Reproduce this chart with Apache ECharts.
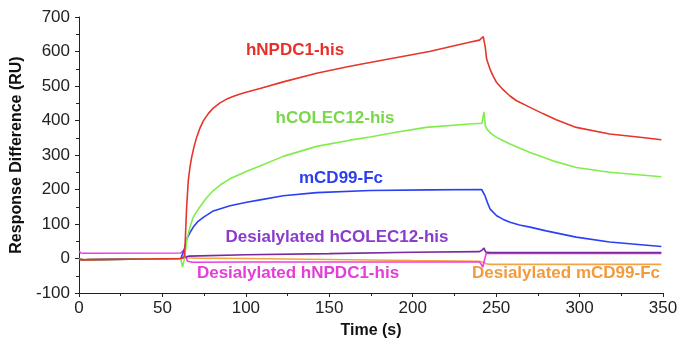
<!DOCTYPE html>
<html><head><meta charset="utf-8">
<script src="https://cdn.jsdelivr.net/npm/echarts@6/dist/echarts.min.js"></script>
<style>html,body{margin:0;padding:0;background:#fff}#c{width:679px;height:342px}</style>
</head><body><div id="c"></div>
<script>
// Time (s) and response (RU) for each sensorgram
const redT  = [0, 3, 30, 61, 62, 63, 63.5, 64, 64.5, 65.5, 66.5, 67.5, 69, 70.5, 72.5, 74.5, 77.5, 80.5, 84.5, 88.5, 93.5, 98.5, 108.5, 122.4, 142.4, 162.4, 174.4, 184, 210, 234, 240, 242.3, 243.5, 244.3, 246.3, 248.3, 250.3, 254, 258.3, 262, 270.3, 278, 286, 298, 318, 335, 349];
const redV  = [-2, -4, -2, 0, 2, 5, 30, 90, 148, 226, 265, 293, 325, 351, 378, 399, 420, 436, 451, 462, 472, 480, 493, 512, 537, 557, 568, 577, 600, 627, 633, 643, 612, 578, 549, 528, 510, 490, 471, 458, 438, 420, 402, 380, 361, 352, 344];
const greenT = [0, 3, 30, 61, 62, 63, 64, 64.5, 66.5, 68.5, 70.5, 72.5, 76.5, 80.5, 85.5, 90.5, 100.5, 108.5, 122.4, 142.4, 162.4, 174.4, 190, 208, 234, 241.5, 242.7, 243.5, 244.5, 247, 250.3, 254, 258.3, 270.3, 284, 298, 318, 349];
const greenV = [-2, -4, -2, 0, -25, -5, 30, 52, 91, 120, 136, 150, 176, 197, 216, 231, 253, 268, 296, 325, 343, 352, 366, 380, 390, 392, 425, 385, 375, 362, 351, 342, 332, 307, 283, 264, 250, 237];
const blueT = [0, 3, 30, 61, 62, 63, 64, 64.5, 66.5, 68.5, 71, 74.5, 80.5, 90.5, 100.5, 108.5, 122.4, 142.4, 174.4, 210, 241.3, 243.3, 244.8, 246.3, 250.3, 254, 258.3, 264, 270.3, 280, 298, 318, 349];
const blueV = [-2, -4, -2, 0, 2, 25, 45, 55, 75, 91, 106, 119, 138, 153, 163, 170, 182, 191, 197, 199, 200, 182, 162, 144, 124, 114, 105, 97, 91, 80, 62, 48, 35];
const magentaT = [0, 1, 3, 61, 62, 63, 64, 65, 66, 68, 100, 240, 241, 242, 243, 244, 246, 349];
const magentaV = [22, 16, 15, 16, 18, 25, 5, -8, -11, -11, -10, -10, -16, -25, -5, 14, 15, 15];
const purpleT = [0, 2, 5, 61, 62, 63, 64, 66, 100, 150, 200, 240, 241.5, 242.7, 243.7, 244.5, 246, 272, 273, 274, 349];
const purpleV = [-2, -5, -3, 0, 1, 2, 5, 7, 11, 14, 18, 20, 24, 30, 19, 15, 17, 17, 20, 17, 17];
const orangeT = [0, 2, 61, 62, 63, 65, 70, 100, 150, 200, 240, 242, 244, 246, 272, 349];
const orangeV = [0, -3, 0, 1, 3, 2, 1, 0, -3, -6, -8, -10, -15, -17, -17, -17];

const xTicks = [0, 50, 100, 150, 200, 250, 300, 350];
const yTicks = [-100, 0, 100, 200, 300, 400, 500, 600, 700];

const labels = [
  {text: 'hNPDC1-his', color: '#e8302a', x: 295, y: 50},
  {text: 'hCOLEC12-his', color: '#79d84a', x: 335, y: 118},
  {text: 'mCD99-Fc', color: '#2c3ef0', x: 341, y: 178},
  {text: 'Desialylated hCOLEC12-his', color: '#8a3ccc', x: 337, y: 237},
  {text: 'Desialylated hNPDC1-his', color: '#e43ed8', x: 298, y: 273},
  {text: 'Desialylated mCD99-Fc', color: '#f39a3c', x: 566, y: 273}
];

const zip = (t, v) => t.map((x, i) => [x, v[i]]);
const font = '"Liberation Sans", Arial, sans-serif';
const chart = echarts.init(document.getElementById('c'), null, {renderer: 'canvas'});
const mk = (name, t, v, color, w) => ({
  name, type: 'line', data: zip(t, v), showSymbol: false, symbol: 'none',
  lineStyle: {color, width: w || 1.6}, itemStyle: {color}, animation: false, z: 2
});
chart.setOption({
  animation: false,
  grid: {left: 79, right: 16, top: 17, bottom: 49, containLabel: false, outerBoundsMode: 'none'},
  xAxis: {
    type: 'value', min: 0, max: 350, interval: 50,
    name: 'Time (s)', nameLocation: 'middle', nameGap: 30,
    nameTextStyle: {fontFamily: font, fontWeight: 'bold', fontSize: 16, color: '#111'},
    axisLine: {onZero: false, lineStyle: {color: '#222', width: 1}},
    axisTick: {show: true, length: 4, lineStyle: {color: '#222'}},
    minorTick: {show: true, splitNumber: 2, length: 3, lineStyle: {color: '#222'}},
    splitLine: {show: false},
    axisLabel: {fontFamily: font, fontSize: 17, color: '#222', margin: 7,
      formatter: v => xTicks.includes(v) ? String(v) : ''}
  },
  yAxis: {
    type: 'value', min: -100, max: 700, interval: 100,
    name: 'Response Difference (RU)', nameLocation: 'middle', nameGap: 54,
    nameTextStyle: {fontFamily: font, fontWeight: 'bold', fontSize: 16, color: '#111'},
    axisLine: {show: true, lineStyle: {color: '#222', width: 1}},
    axisTick: {show: true, length: 4, lineStyle: {color: '#222'}},
    minorTick: {show: true, splitNumber: 2, length: 3, lineStyle: {color: '#222'}},
    splitLine: {show: false},
    axisLabel: {fontFamily: font, fontSize: 17, color: '#222', margin: 9,
      formatter: v => yTicks.includes(v) ? String(v) : ''}
  },
  series: [
    mk('Desialylated mCD99-Fc', orangeT, orangeV, '#f5a445'),
    mk('Desialylated hNPDC1-his', magentaT, magentaV, '#ec3de4'),
    mk('Desialylated hCOLEC12-his', purpleT, purpleV, '#7a2a9a'),
    mk('mCD99-Fc', blueT, blueV, '#2a40f5'),
    mk('hCOLEC12-his', greenT, greenV, '#82ec4a'),
    mk('hNPDC1-his', redT, redV, '#e8352a')
  ],
  graphic: labels.map(l => ({
    type: 'text', x: l.x, y: l.y, z: 10,
    style: {text: l.text, fill: l.color, font: 'bold 17px ' + font, textAlign: 'center', textVerticalAlign: 'middle'}
  }))
});
</script></body></html>
